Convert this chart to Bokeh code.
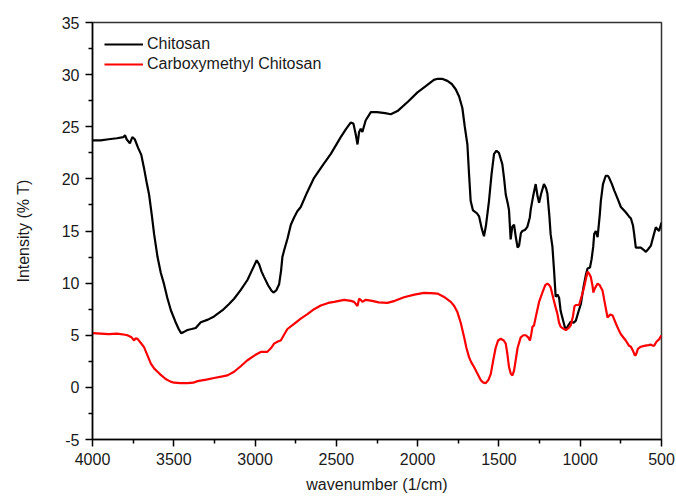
from bokeh.plotting import figure
from bokeh.models import Range1d, FixedTicker
from bokeh.embed import file_html
from bokeh.resources import INLINE

# ---- data ----
chitosan_wn = [4000, 3950, 3900, 3850, 3810, 3800, 3790, 3770, 3755, 3740, 3720, 3700, 3684, 3665,
               3652, 3635, 3621, 3600, 3580, 3560, 3540, 3518, 3490, 3470, 3455, 3440, 3416, 3390,
               3365, 3334, 3290, 3252, 3200, 3160, 3129, 3090, 3047, 3020, 2990, 2975, 2960, 2945,
               2920, 2900, 2887, 2870, 2852, 2840, 2832, 2822, 2800, 2780, 2760, 2740, 2719, 2680,
               2637, 2580, 2534, 2473, 2440, 2412, 2395, 2380, 2370, 2360, 2350, 2340, 2320, 2288,
               2250, 2200, 2165, 2124, 2060, 2001, 1950, 1900, 1878, 1850, 1817, 1790, 1766, 1745,
               1725, 1710, 1694, 1684, 1674, 1660, 1653, 1635, 1622, 1605, 1592, 1580, 1561, 1545,
               1530, 1515, 1500, 1479, 1468, 1458, 1445, 1438, 1428, 1418, 1407, 1395, 1385, 1376,
               1365, 1356, 1340, 1325, 1310, 1304, 1290, 1274, 1262, 1253, 1240, 1223, 1210, 1202,
               1190, 1182, 1171, 1160, 1151, 1140, 1130, 1120, 1110, 1095, 1088, 1075, 1058, 1040,
               1027, 1010, 996, 980, 965, 955, 940, 930, 920, 914, 904, 893, 880, 873, 860, 843,
               830, 822, 805, 791, 770, 750, 720, 700, 688, 675, 668, 658, 640, 627, 610, 596, 580,
               565, 550, 535, 515, 500]
chitosan_t = [23.7, 23.7, 23.8, 23.9, 24.0, 24.2, 23.8, 23.4, 24.0, 23.8, 23.0, 22.3, 21.1, 19.5,
              18.5, 16.5, 14.7, 12.5, 11.0, 9.9, 8.6, 7.4, 6.3, 5.6, 5.2, 5.3, 5.5, 5.6,
              5.7, 6.25, 6.5, 6.8, 7.4, 8.0, 8.5, 9.3, 10.3, 11.2, 12.2, 11.8, 11.1, 10.6,
              9.8, 9.3, 9.1, 9.3, 9.9, 11.2, 12.5, 13.1, 14.3, 15.6, 16.3, 16.9, 17.3, 18.7,
              20.1, 21.4, 22.4, 24.0, 24.8, 25.4, 25.3, 24.2, 23.3, 24.5, 24.8, 24.5, 25.6, 26.4,
              26.4, 26.3, 26.2, 26.5, 27.4, 28.3, 28.9, 29.5, 29.6, 29.6, 29.4, 29.1, 28.6, 27.9,
              26.8, 25.0, 23.3, 20.5, 17.9, 17.0, 16.9, 16.7, 16.4, 15.2, 14.5, 15.5, 17.9, 20.5,
              22.4, 22.7, 22.5, 21.4, 20.0, 18.5, 17.6, 17.0, 14.2, 15.4, 15.6, 14.3, 13.4, 13.6,
              14.8, 15.0, 15.1, 15.4, 16.3, 17.1, 18.3, 19.5, 18.3, 17.7, 18.6, 19.5, 19.1, 18.6,
              16.5, 14.7, 13.5, 11.0, 8.7, 8.9, 8.6, 7.3, 6.7, 5.8, 5.5, 5.9, 6.3, 6.2,
              6.4, 7.3, 8.0, 9.6, 10.8, 11.4, 11.5, 12.3, 13.5, 14.7, 15.0, 14.4, 16.5, 17.9, 19.5, 20.3,
              20.3, 20.1, 19.5, 18.9, 18.1, 17.3, 16.8, 16.4, 16.2, 15.5, 14.7, 13.4, 13.4, 13.4, 13.2, 13.0, 13.3,
              13.6, 14.5, 15.35, 15.0, 15.8]

cmc_wn = [4000, 3950, 3900, 3850, 3800, 3785, 3760, 3744, 3735, 3723, 3705, 3683, 3660, 3641,
          3620, 3600, 3580, 3550, 3520, 3498, 3460, 3416, 3380, 3354, 3300, 3252, 3200, 3170,
          3129, 3090, 3047, 3000, 2965, 2926, 2900, 2883, 2860, 2842, 2820, 2801, 2760, 2719,
          2680, 2637, 2596, 2550, 2514, 2452, 2410, 2391, 2380, 2370, 2360, 2350, 2340, 2319,
          2280, 2240, 2186, 2140, 2084, 2020, 1961, 1920, 1878, 1840, 1796, 1775, 1755, 1735,
          1714, 1700, 1684, 1670, 1653, 1635, 1612, 1595, 1581, 1565, 1550, 1535, 1520, 1505,
          1489, 1470, 1458, 1448, 1438, 1427, 1417, 1407, 1397, 1385, 1366, 1350, 1335, 1320,
          1309, 1300, 1294, 1284, 1270, 1253, 1230, 1215, 1202, 1190, 1182, 1165, 1150, 1141,
          1130, 1120, 1100, 1088, 1070, 1058, 1045, 1035, 1027, 1007, 990, 976, 965, 955,
          945, 935, 925, 919, 910, 893, 880, 863, 850, 832, 815, 801, 780, 760, 750, 720,
          700, 688, 675, 665, 658, 645, 627, 600, 580, 565, 555, 545, 530, 515, 500]
cmc_t = [5.2, 5.15, 5.1, 5.15, 5.05, 5.0, 4.8, 4.5, 4.7, 4.65, 4.3, 3.86, 3.0, 2.27,
         1.8, 1.5, 1.2, 0.8, 0.55, 0.45, 0.4, 0.4, 0.45, 0.6, 0.75, 0.9, 1.05, 1.15,
         1.5, 2.0, 2.6, 3.1, 3.4, 3.4, 3.8, 4.2, 4.4, 4.5, 5.1, 5.6, 6.1, 6.6,
         7.0, 7.5, 7.85, 8.1, 8.2, 8.4, 8.3, 8.2, 8.0, 7.8, 8.5, 8.4, 8.2, 8.4,
         8.3, 8.15, 8.1, 8.3, 8.65, 8.9, 9.07, 9.05, 9.0, 8.7, 8.2, 7.8, 7.2, 6.2,
         4.8, 3.8, 2.9, 2.4, 1.95, 1.4, 0.7, 0.45, 0.41, 0.7, 1.3, 2.6, 3.8, 4.5,
         4.66, 4.5, 4.2, 3.2, 1.95, 1.3, 1.15, 1.6, 2.6, 3.8, 4.8, 5.0, 5.0, 4.8,
         4.5, 5.2, 5.8, 5.95, 7.0, 8.2, 9.2, 9.8, 9.95, 9.8, 9.6, 8.5, 7.6, 7.1,
         6.2, 5.8, 5.6, 5.5, 5.7, 5.95, 6.8, 7.8, 7.9, 7.9, 8.8, 9.6, 10.4, 11.1,
         10.9, 10.6, 9.8, 9.1, 9.5, 9.95, 9.8, 9.3, 8.2, 6.7, 7.0, 6.9, 6.1, 5.4, 5.1, 4.5,
         4.0, 3.9, 3.5, 3.1, 3.1, 3.7, 3.9, 4.0, 4.05, 4.1, 4.0, 4.0, 4.4, 4.6, 5.0]

x_ticks = [4000, 3500, 3000, 2500, 2000, 1500, 1000, 500]
x_minor = [3750, 3250, 2750, 2250, 1750, 1250, 750]
y_ticks = [-5, 0, 5, 10, 15, 20, 25, 30, 35]
y_minor = [-2.5, 2.5, 7.5, 12.5, 17.5, 22.5, 27.5, 32.5]

series_names = ["Chitosan", "Carboxymethyl Chitosan"]
series_colors = ["#000000", "#ff0000"]

FONT = "Liberation Sans"

p = figure(frame_width=569, frame_height=417,
           x_range=Range1d(4000, 500), y_range=Range1d(-5, 35),
           output_backend="svg", toolbar_location=None,
           min_border_left=92, min_border_right=15, min_border_top=22, min_border_bottom=57)

p.line(chitosan_wn, chitosan_t, line_color=series_colors[0], line_width=2.2, legend_label=series_names[0])
p.line(cmc_wn, cmc_t, line_color=series_colors[1], line_width=2.2, legend_label=series_names[1])

p.xgrid.visible = False
p.ygrid.visible = False
p.outline_line_color = "#333333"
p.outline_line_width = 1.5

p.xaxis.ticker = FixedTicker(ticks=x_ticks, minor_ticks=x_minor)
p.yaxis.ticker = FixedTicker(ticks=y_ticks, minor_ticks=y_minor)
p.yaxis.major_label_overrides = {-5: "-5"}

for ax in (p.xaxis, p.yaxis):
    ax.axis_line_width = 1.5
    ax.axis_line_color = "#000000"
    ax.major_tick_line_width = 1.5
    ax.minor_tick_line_width = 1.5
    ax.major_tick_in = 0
    ax.major_tick_out = 7
    ax.minor_tick_in = 0
    ax.minor_tick_out = 4
    ax.major_label_text_font = FONT
    ax.major_label_text_font_size = "16px"
    ax.major_label_text_color = "#1a1a1a"
    ax.axis_label_text_font = FONT
    ax.axis_label_text_font_size = "16px"
    ax.axis_label_text_font_style = "normal"
    ax.axis_label_text_color = "#1a1a1a"
    ax.major_label_standoff = 6

p.xaxis.axis_label = "wavenumber (1/cm)"
p.yaxis.axis_label = "Intensity (% T)"
p.xaxis.axis_label_standoff = 8
p.yaxis.axis_label_standoff = 27

lg = p.legend[0]
lg.location = "top_left"
lg.margin = 12
lg.padding = 0
lg.spacing = 0
lg.border_line_color = None
lg.background_fill_alpha = 0
lg.glyph_width = 39
lg.glyph_height = 20
lg.label_height = 20
lg.label_standoff = 4
lg.label_text_font = FONT
lg.label_text_font_size = "16px"
lg.label_text_color = "#1a1a1a"

open("out.html", "w").write(file_html(p, INLINE))
